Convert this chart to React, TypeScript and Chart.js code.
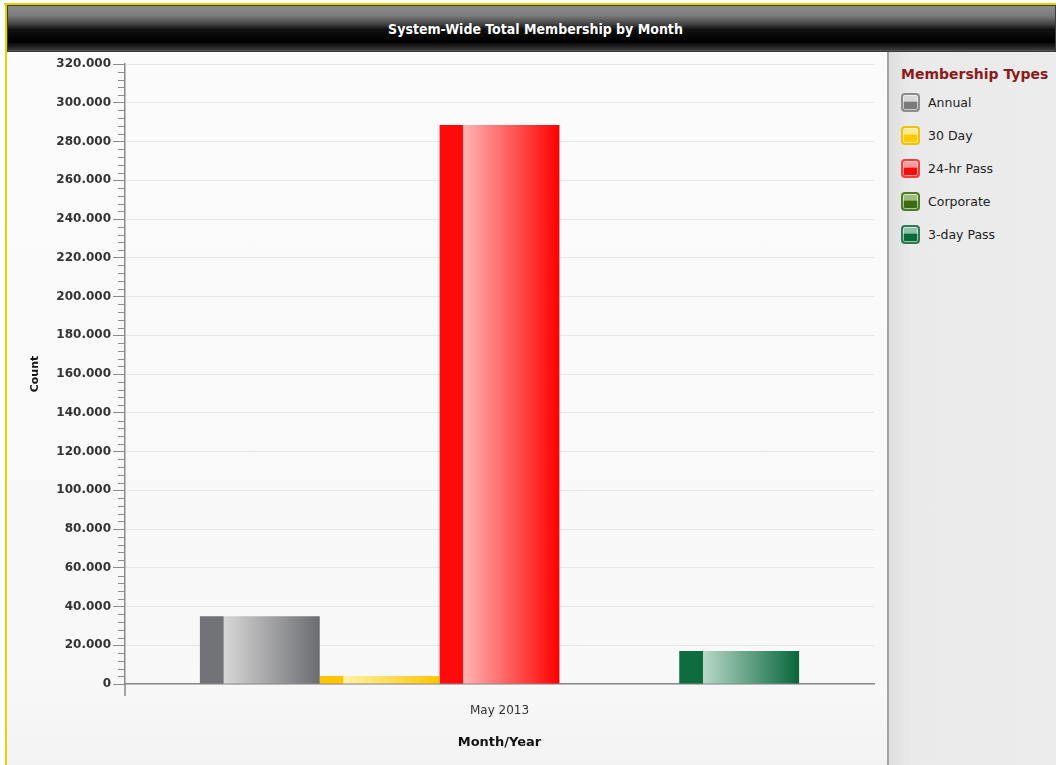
import React, { useEffect, useRef } from 'react';
import { Chart, registerables } from 'chart.js';

Chart.register(...registerables);

// ---------- data ----------
const categories = ['May 2013'];
const seriesNames = ['Annual', '30 Day', '24-hr Pass', 'Corporate', '3-day Pass'];
const annualValues = [35000];
const thirtyDayValues = [4100];
const dayPassValues = [288500];
const corporateValues = [0];
const threeDayValues = [17000];
const yMax = 320000;
const yMajorStep = 20000;
const yMinorStep = 4000;

const chartTitle = 'System-Wide Total Membership by Month';
const legendTitle = 'Membership Types';
const xTitle = 'Month/Year';
const yTitle = 'Count';

// ---------- styles ----------
const barStops = [
  { dark: '#727377', light: '#d7d7d7', end: '#6b6c70' },
  { dark: '#ffc400', light: '#fff1a8', end: '#ffc500' },
  { dark: '#ff0a0a', light: '#ffb4b4', end: '#ff0000' },
  { dark: '#3f6f1a', light: '#aacb8e', end: '#3b6a14' },
  { dark: '#0e6c3f', light: '#b8d8c7', end: '#06663a' },
];

const iconStyles = [
  { border: '#8d8d8d', top: '#d8d8d8', bottom: '#7a7a7a' },
  { border: '#f2c200', top: '#ffe98a', bottom: '#ffc800' },
  { border: '#ff3a3a', top: '#ff9a9a', bottom: '#ff0a0a' },
  { border: '#4d7d24', top: '#9dbd7a', bottom: '#3c6a12' },
  { border: '#2b7c54', top: '#8cc2a8', bottom: '#0b6a3c' },
];

const seriesValues = [annualValues, thirtyDayValues, dayPassValues, corporateValues, threeDayValues];

const fmt = (v: number) => String(v).replace(/\B(?=(\d{3})+(?!\d))/g, '.');

const makeFill = (idx: number) => (ctx: any) => {
  const s = barStops[idx];
  if (ctx.type !== 'data') return s.dark;
  const chart = ctx.chart;
  const area = chart.chartArea;
  const xs = chart.scales && chart.scales.x;
  if (!area || !xs) return s.dark;
  const n = chart.data.datasets.length;
  const catW = ((area.right - area.left) / chart.data.labels.length) * 0.8;
  const barW = catW / n;
  const center = xs.getPixelForValue(ctx.dataIndex);
  const left = center - catW / 2 + ctx.datasetIndex * barW;
  if (!isFinite(left)) return s.dark;
  const g = chart.ctx.createLinearGradient(left, 0, left + barW, 0);
  g.addColorStop(0, s.dark);
  g.addColorStop(0.195, s.dark);
  g.addColorStop(0.2, s.light);
  g.addColorStop(1, s.end);
  return g;
};

const axisExtras = {
  id: 'axisExtras',
  afterDraw(chart: any) {
    const { ctx, chartArea } = chart;
    const y = chart.scales.y;
    ctx.save();
    ctx.strokeStyle = '#8c8c8c';
    ctx.lineWidth = 1;
    for (let v = 0; v <= yMax; v += yMinorStep) {
      if (v % yMajorStep === 0) continue;
      const py = Math.round(y.getPixelForValue(v)) + 0.5;
      ctx.beginPath();
      ctx.moveTo(chartArea.left - 7, py);
      ctx.lineTo(chartArea.left, py);
      ctx.stroke();
    }
    ctx.strokeStyle = '#8a8a8a';
    ctx.lineWidth = 1.5;
    ctx.beginPath();
    ctx.moveTo(chartArea.left, chartArea.bottom);
    ctx.lineTo(chartArea.left, chartArea.bottom + 12);
    ctx.stroke();
    ctx.restore();
  },
};

function ChartCanvas() {
  const ref = useRef<HTMLCanvasElement>(null);
  useEffect(() => {
    if (!ref.current) return;
    const chart = new Chart(ref.current, {
      type: 'bar',
      data: {
        labels: categories,
        datasets: seriesNames.map((name, i) => ({
          label: name,
          data: seriesValues[i],
          backgroundColor: makeFill(i),
          borderWidth: 0,
          categoryPercentage: 0.8,
          barPercentage: 1.0,
        })),
      },
      options: {
        animation: false,
        responsive: false,
        layout: { padding: { top: 12, right: 13, left: 0, bottom: 0 } },
        plugins: {
          legend: { display: false },
          tooltip: { enabled: false },
          title: { display: false },
        },
        scales: {
          x: {
            grid: { display: true, drawOnChartArea: false, drawTicks: false },
            border: { display: true, color: '#8a8a8a', width: 1.5 },
            ticks: { color: '#333', font: { family: 'DejaVu Sans', size: 12 }, padding: 20 },
            title: {
              display: true,
              text: xTitle,
              color: '#111',
              font: { family: 'DejaVu Sans', size: 13, weight: 'bold' },
              padding: { top: 0, bottom: 15 },
            },
            afterFit: (s: any) => {
              s.height = 81;
            },
          },
          y: {
            min: 0,
            max: yMax,
            ticks: {
              stepSize: yMajorStep,
              callback: (v: any) => fmt(Number(v)),
              color: '#333',
              font: { family: 'DejaVu Sans', size: 12, weight: 'bold' },
              padding: 2,
            },
            grid: { color: '#e6e6e6', tickColor: '#8c8c8c', tickLength: 12, lineWidth: 1 },
            border: { display: true, color: '#8a8a8a', width: 1.5 },
            title: {
              display: true,
              text: yTitle,
              color: '#111',
              font: { family: 'DejaVu Sans', size: 11, weight: 'bold' },
              padding: { top: 22, bottom: 0 },
            },
            afterFit: (s: any) => {
              s.width = 118;
            },
          },
        },
      } as any,
      plugins: [axisExtras],
    });
    return () => chart.destroy();
  }, []);
  return <canvas ref={ref} width={880} height={713} style={{ display: 'block' }} />;
}

export default function App() {
  useEffect(() => {
    document.body.style.margin = '0';
  }, []);
  return (
    <div
      style={{
        position: 'fixed',
        left: 0,
        top: 0,
        width: 1056,
        height: 765,
        overflow: 'hidden',
        background: '#ffffff',
        fontFamily: 'DejaVu Sans, sans-serif',
      }}
    >
      <div style={{ position: 'absolute', left: 4, top: 3, width: 1052, height: 2, background: '#e2d300' }} />
      <div style={{ position: 'absolute', left: 5, top: 3, width: 2, height: 762, background: '#e2d300' }} />
      <div
        style={{
          position: 'absolute',
          left: 7,
          top: 5,
          width: 1049,
          height: 47,
          boxSizing: 'border-box',
          border: '1px solid #3c3c3c',
          background:
            'linear-gradient(to bottom, #8c8c8c 0%, #7a7a7a 22%, #444 40%, #111 52%, #000 80%, #333 96%, #555 100%)',
          color: '#fff',
          display: 'flex',
          alignItems: 'center',
          justifyContent: 'center',
          fontFamily: 'DejaVu Sans Condensed, DejaVu Sans, sans-serif',
          fontWeight: 'bold',
          fontSize: 14,
          paddingLeft: 8,
        }}
      >
        {chartTitle}
      </div>
      <div
        style={{
          position: 'absolute',
          left: 7,
          top: 52,
          width: 880,
          height: 713,
          background: 'linear-gradient(to bottom, #fbfbfb 0%, #f8f8f8 88%, #f3f3f3 100%)',
        }}
      >
        <ChartCanvas />
      </div>
      <div
        style={{
          position: 'absolute',
          left: 887,
          top: 52,
          width: 169,
          height: 713,
          boxSizing: 'border-box',
          borderLeft: '2px solid #a3a3a3',
          background: 'linear-gradient(to right, #dedede 0%, #eaeaea 12%, #ececec 100%)',
        }}
      >
        <div
          style={{
            position: 'absolute',
            left: 12,
            top: 14,
            fontSize: 14,
            fontWeight: 'bold',
            color: '#8b1a1a',
            whiteSpace: 'nowrap',
          }}
        >
          {legendTitle}
        </div>
        {seriesNames.map((name, i) => {
          const st = iconStyles[i];
          return (
            <div
              key={name}
              style={{ position: 'absolute', left: 12, top: 41 + i * 33, height: 19, display: 'flex', alignItems: 'center' }}
            >
              <div
                style={{
                  width: 19,
                  height: 19,
                  boxSizing: 'border-box',
                  borderRadius: 4,
                  border: `2px solid ${st.border}`,
                  background: `linear-gradient(to bottom, ${st.top} 0%, ${st.top} 40%, ${st.bottom} 50%, ${st.bottom} 100%)`,
                  boxShadow: 'inset 0 0 0 1px rgba(255,255,255,0.6)',
                }}
              />
              <span style={{ marginLeft: 8, fontSize: 12.5, color: '#222', whiteSpace: 'nowrap' }}>{name}</span>
            </div>
          );
        })}
      </div>
    </div>
  );
}
